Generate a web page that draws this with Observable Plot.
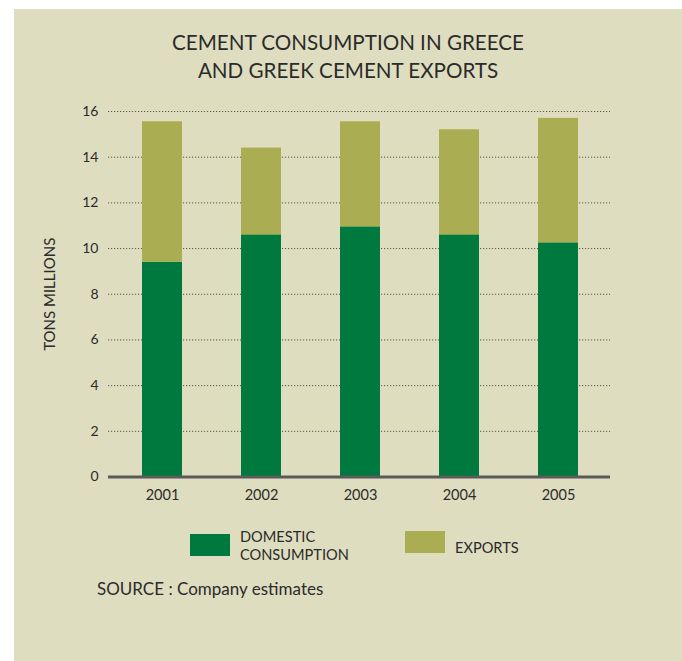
<!DOCTYPE html>
<html>
<head>
<meta charset="utf-8">
<script src="https://cdn.jsdelivr.net/npm/d3@7"></script>
<script src="https://cdn.jsdelivr.net/npm/@observablehq/plot@0.6"></script>
<style>
  html, body { margin: 0; padding: 0; background: #ffffff; }
  body { width: 682px; height: 661px; position: relative; overflow: hidden; font-family: Lato, "Open Sans", sans-serif; color: #2b2b2b; }
  #panel { position: absolute; left: 14px; top: 9px; width: 668px; height: 652px; background: #dfddc0; }
  #title { position: absolute; left: 14px; width: 668px; top: 28px; text-align: center; font-size: 20.6px; line-height: 28px; }
  #chart { position: absolute; left: 0; top: 90px; }
  .sw { position: absolute; width: 40px; height: 22px; }
  .lg { position: absolute; font-size: 14.6px; line-height: 17.7px; }
  #source { position: absolute; left: 97px; top: 579px; font-size: 17px; line-height: 20px; }
</style>
</head>
<body>
<div id="panel"></div>
<div id="title">CEMENT CONSUMPTION IN GREECE<br>AND GREEK CEMENT EXPORTS</div>
<div id="chart"></div>
<div class="sw" id="sw1" style="left:190px;top:534px;"></div>
<div class="lg" id="lg1" style="left:240px;top:528px;"></div>
<div class="sw" id="sw2" style="left:405px;top:531px;"></div>
<div class="lg" id="lg2" style="left:455px;top:539px;"></div>
<div id="source">SOURCE : Company estimates</div>
<script>
const years = ["2001", "2002", "2003", "2004", "2005"];
const domestic = [9.4, 10.6, 10.95, 10.6, 10.25];
const exportsVals = [6.15, 3.8, 4.6, 4.6, 5.45];
const seriesNames = ["DOMESTIC CONSUMPTION", "EXPORTS"];
const seriesColors = ["#00793f", "#aaad52"];
const yTicks = [0, 2, 4, 6, 8, 10, 12, 14, 16];
const gridTicks = [2, 4, 6, 8, 10, 12, 14, 16];
const yLabel = "TONS MILLIONS";

const data = [];
years.forEach((y, i) => {
  data.push({year: y, series: seriesNames[0], value: domestic[i]});
  data.push({year: y, series: seriesNames[1], value: exportsVals[i]});
});

document.getElementById("sw1").style.background = seriesColors[0];
document.getElementById("sw2").style.background = seriesColors[1];
document.getElementById("lg1").innerHTML = "DOMESTIC<br>CONSUMPTION";
document.getElementById("lg2").textContent = seriesNames[1];

const chart = Plot.plot({
  width: 682,
  height: 420,
  marginTop: 21,
  marginBottom: 33.5,
  marginLeft: 108,
  marginRight: 72,
  style: {background: "transparent", fontFamily: "Lato, 'Open Sans', sans-serif", color: "#2b2b2b", overflow: "visible"},
  x: {domain: years, range: [81, 638], padding: 0.6},
  y: {domain: [0, 16]},
  color: {domain: seriesNames, range: seriesColors},
  marks: [
    Plot.ruleY(gridTicks, {stroke: "#555", strokeWidth: 1, strokeDasharray: "1.2,1.8"}),
    Plot.barY(data, {x: "year", y: "value", fill: "series", order: seriesNames}),
    Plot.ruleY([0], {stroke: "#5a5a5a", strokeWidth: 3}),
    Plot.axisY({ticks: yTicks, tickSize: 0, tickPadding: 10, label: null, fontSize: 14, tickFormat: d => String(d)}),
    Plot.axisX({tickSize: 0, tickPadding: 13, label: null, fontSize: 14.5}),
    Plot.text([yLabel], {frameAnchor: "left", textAnchor: "middle", lineAnchor: "middle", dx: -58, rotate: -90, text: d => d, fontSize: 15, fill: "#2b2b2b"})
  ]
});
document.getElementById("chart").appendChild(chart);
</script>
</body>
</html>
